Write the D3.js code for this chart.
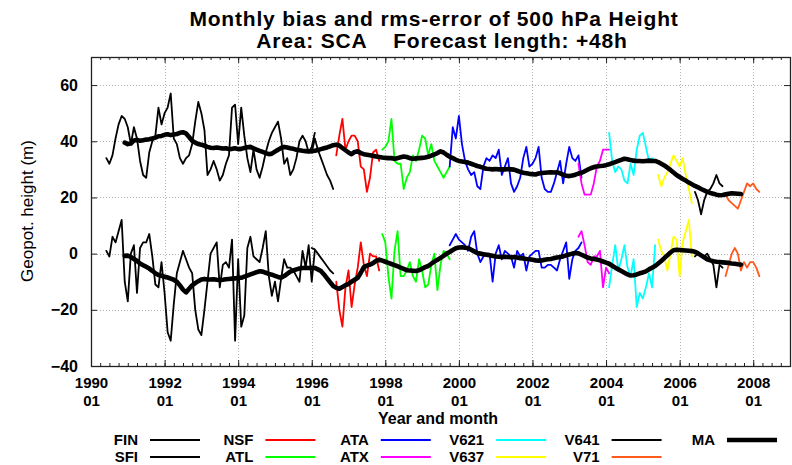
<!DOCTYPE html>
<html>
<head>
<meta charset="utf-8">
<script src="https://cdn.jsdelivr.net/npm/d3@7"></script>
<style>
  html, body { margin: 0; padding: 0; background: #fff; }
  svg { display: block; font-family: "Liberation Sans", Arial, Helvetica, sans-serif; }
</style>
</head>
<body>
<svg id="chart" width="792" height="465"></svg>
<script>
// ---- Data: monthly rms error (upper group) and bias (lower group), metres ----
// Each experiment: first month (YYYY-MM), then one value per month.
const finStart = "1990-06";
const finRms = [34,32,35,41,46,49,48,45,39,45,41,33,28,27,36,40,42,52,46,50,52,57,41,39,34,32,34,35,39,47,54,50,44,28,30,33,30,26,28,32,35,52,53,39,52,42,34,29,37,30,27,31,36,40,43,45,47,41,32,34,28,30,34,40,42,40,36,38,43];
const finBias = [1,-1,6,4,8,12,-10,-17,0,3,-14,2,4,4,7,-1,-11,-12,-3,-14,-28,-31,-18,-7,-3,1,-2,-5,-7,-20,-27,-29,-20,-10,0,2,4,-12,-4,-3,-5,5,-31,-2,-26,-22,2,6,-1,-2,-3,2,8,-8,-15,-10,-17,-9,-2,-5,-5,-6,-8,-10,1,-5,3,-10,1];

const sfiStart = "1996-01";
const sfiRms = [36,41,37,34,31,28,26,23];
const sfiBias = [2,1.5,0,-1.5,-3,-4.5,-6,-7];

const nsfStart = "1996-09";
const nsfRms = [35,42,48,37,40,42,42,40,31,30,22,27,36,37,33];
const nsfBias = [-10,-20,-26,-12,-6,-19,-11,-5,4,-4,-8,0,-1,-1,-6];

const atlStart = "1997-12";
const atlRms = [37,38,40,48,33,32,32,23,27,29,35,33,37,42,41,35,39,33,31,29,27,29,31];
const atlBias = [7,4,-8,-16,1,8,-8,-8,-6,-3,-8,-10,-2,-6,-12,-11,-4,0,-13,-4,1,0,-2];

const ataStart = "1999-10";
const ataRms = [31,45,41,49,39,33,30,28,29,24,23,31,34,33,35,34,37,28,31,34,25,22,24,27,34,38,31,32,34,38,27,23,22,22,25,29,33,25,32,38,34,33,35,27];
const ataBias = [3,5,7,5,4,3,1,6,8,0,-3,-1,0,0,-10,0,3,-2,1,0,-1,-5,1,-1,0,-6,-1,0,1,1,-5,-5,-4,-4,-5,-6,-2,1,4,-9,-2,1,2,4];

const atxStart = "2003-04";
const atxRms = [32,25,21,21,21,25,31,33,37,37,37];
const atxBias = [6,8,3,-3,-4,-1,-1,1,-12,-5,-7];

const v621Start = "2004-02";
const v621Rms = [43,33,29,31,30,26,25,32,28,37,42,43,38,33,34,33];
const v621Bias = [-12,-4,3,-6,-2,3,-5,-8,-2,-19,-14,-16,-12,-7,-12,3];

const v637Start = "2005-06";
const v637Rms = [28,24,27,29,32,35,33,31,34,28,23,18];
const v637Bias = [5,1,-1,-6,0,6,5,-8,4,8,12,-1];

const v641Start = "2006-06";
const v641Rms = [22,19,14,19,22,23,25,28,25,24];
const v641Bias = [-1,0,-1,-1,0,-2,-4,-12,-4,-5];

const v71Start = "2007-04";
const v71Rms = [21,19,18,17,16,19,22,25,24,25,23,22];
const v71Bias = [-8,-4,0,2,0,-6,-3,-5,-3,-3,-5,-8];

// Moving average over all experiments
const maStart = "1990-12";
const maRms = [39.5,39.0,39.2,40.3,40.5,40.2,40.4,40.6,40.7,41.0,
  41.3,41.8,41.9,42.3,42.5,42.2,42.4,42.6,43.0,43.2,
  42.8,41.5,40.2,39.5,39.0,38.8,38.4,38.0,37.7,37.6,
  37.8,37.6,37.4,37.5,37.2,37.3,37.5,37.2,37.3,37.6,
  37.9,38.0,37.5,37.0,36.6,36.2,35.8,35.4,35.6,36.3,
  37.0,37.6,38.0,37.8,37.5,37.3,37.0,36.8,36.6,36.5,
  36.4,36.5,36.6,36.9,37.2,37.5,37.8,38.2,38.6,38.8,
  38.5,37.6,36.8,36.0,35.4,36.2,36.4,35.8,35.4,35.2,
  35.0,34.8,34.6,34.4,34.2,34.1,34.0,34.0,33.8,34.0,
  34.3,34.6,34.4,34.0,33.8,33.9,34.0,34.1,34.2,34.5,
  34.9,35.3,35.8,36.4,36.0,35.2,34.5,34.0,33.4,33.0,
  32.8,32.6,32.4,32.0,31.6,31.2,30.9,30.5,30.2,30.1,
  30.0,30.1,30.0,30.0,30.0,30.1,30.0,29.9,29.5,29.1,
  28.8,28.6,28.4,28.3,28.2,28.5,28.7,28.8,28.9,29.0,
  28.9,29.0,28.6,28.1,27.7,27.6,27.8,28.1,28.5,28.8,
  29.3,29.9,30.4,30.8,31.0,31.2,31.3,31.5,31.8,32.2,
  32.6,33.0,33.4,33.8,33.6,33.3,33.1,33.0,33.0,32.9,
  33.0,33.1,33.0,33.0,32.6,32.0,31.4,30.6,29.8,28.9,
  28.0,27.3,26.6,26.0,25.3,24.7,24.1,23.6,23.0,22.5,
  22.0,21.6,21.3,21.0,20.8,20.9,21.1,21.3,21.5,21.4,
  21.3,21.2];
const maBias = [-0.8,-0.7,-1.2,-1.9,-2.6,-3.5,-4.1,-4.7,-5.3,-6.1,
  -7.0,-7.6,-7.9,-8.2,-8.5,-8.9,-9.3,-10.0,-11.3,-12.8,
  -13.8,-12.5,-11.3,-10.5,-9.8,-9.2,-9.0,-9.2,-9.2,-9.1,
  -9.3,-9.4,-9.3,-9.1,-9.0,-8.9,-8.8,-8.7,-8.6,-8.2,
  -7.8,-7.4,-7.0,-6.6,-6.3,-6.4,-6.8,-7.2,-7.5,-7.9,
  -8.3,-8.6,-8.0,-7.2,-6.4,-6.0,-5.6,-5.3,-5.1,-5.0,
  -5.1,-5.0,-5.1,-5.6,-6.2,-7.4,-8.8,-10.2,-11.5,-12.2,
  -12.5,-11.9,-11.2,-10.8,-10.0,-9.3,-8.6,-6.8,-4.8,-4.3,
  -3.9,-3.4,-2.6,-2.1,-2.5,-2.9,-3.3,-3.7,-4.1,-4.5,
  -5.0,-5.4,-5.9,-6.0,-6.1,-6.2,-5.9,-5.4,-4.8,-4.4,
  -3.6,-2.8,-2.2,-1.5,-0.8,0.0,0.6,1.3,1.9,2.2,
  2.3,2.1,2.0,1.4,0.8,0.2,0.0,-0.2,-0.4,-0.6,
  -0.8,-1.0,-1.1,-1.2,-1.1,-1.2,-1.3,-1.2,-1.4,-1.6,
  -1.7,-1.9,-2.0,-2.2,-2.4,-2.5,-2.4,-2.2,-2.0,-1.9,
  -1.6,-1.4,-1.2,-1.0,-0.6,-0.3,0.0,0.2,0.1,-0.4,
  -0.9,-1.4,-1.7,-1.9,-2.1,-2.4,-2.8,-3.2,-3.6,-4.3,
  -5.0,-5.6,-6.2,-6.8,-7.4,-7.8,-7.7,-7.4,-7.0,-6.7,
  -6.3,-5.6,-5.0,-4.4,-3.5,-2.6,-1.6,-0.6,0.4,1.2,
  1.4,1.3,1.2,1.1,1.0,0.9,0.7,0.1,-0.6,-1.3,
  -2.0,-2.4,-2.7,-2.9,-3.0,-3.1,-3.2,-3.3,-3.5,-3.6,
  -3.8,-3.9];

// Axis ticks
const yTickValues = [-40, -20, 0, 20, 40, 60];
const xLabelYears = [1990, 1992, 1994, 1996, 1998, 2000, 2002, 2004, 2006, 2008];
const xLabelMonth = "01";

// ---- Experiment table (name, start, rms, bias) and drawing styles ----
const experiments = [
  { name: "FIN",  start: finStart,  rms: finRms,  bias: finBias },
  { name: "SFI",  start: sfiStart,  rms: sfiRms,  bias: sfiBias },
  { name: "NSF",  start: nsfStart,  rms: nsfRms,  bias: nsfBias },
  { name: "ATL",  start: atlStart,  rms: atlRms,  bias: atlBias },
  { name: "ATA",  start: ataStart,  rms: ataRms,  bias: ataBias },
  { name: "ATX",  start: atxStart,  rms: atxRms,  bias: atxBias },
  { name: "V621", start: v621Start, rms: v621Rms, bias: v621Bias },
  { name: "V637", start: v637Start, rms: v637Rms, bias: v637Bias },
  { name: "V641", start: v641Start, rms: v641Rms, bias: v641Bias },
  { name: "V71",  start: v71Start,  rms: v71Rms,  bias: v71Bias }
];
const colorOf = {
  FIN: "#000000", SFI: "#000000", NSF: "#ff0000", ATL: "#00ff00", ATA: "#0000ff",
  ATX: "#ff00ff", V621: "#00ffff", V637: "#ffff00", V641: "#000000", V71: "#ff5a1e"
};

// ---- Layout ----
const svg = d3.select("#chart");
const plotLeft = 91, plotRight = 790, plotTop = 57, plotBottom = 366;
const thinWidth = 1.8, maWidth = 4.6;

const x = d3.scaleLinear().domain([1990, 2009]).range([plotLeft, plotRight]);
const y = d3.scaleLinear().domain([-40, 70]).range([plotBottom, plotTop]);

function toSeries(start, values) {
  const [yy, mm] = start.split("-").map(Number);
  return values.map((v, i) => ({ t: yy + (mm - 1 + i) / 12, v }));
}

// Grid (dotted)
const grid = svg.append("g").attr("stroke", "#b4b4b4").attr("stroke-width", 1)
  .attr("stroke-dasharray", "1,2");
grid.selectAll("line.h").data(yTickValues.filter(d => d > -40)).join("line")
  .attr("x1", plotLeft).attr("x2", plotRight)
  .attr("y1", d => Math.round(y(d)) + 0.5).attr("y2", d => Math.round(y(d)) + 0.5);
grid.selectAll("line.v").data(xLabelYears.filter(d => d > 1990)).join("line")
  .attr("y1", plotTop).attr("y2", plotBottom)
  .attr("x1", d => Math.round(x(d)) + 0.5).attr("x2", d => Math.round(x(d)) + 0.5);

// Axes with inward ticks
const quarterTicks = d3.range(1990, 2009.01, 0.25);
function styleAxis(g) {
  g.select(".domain").remove();
  g.selectAll(".tick line").attr("stroke", "#222").attr("stroke-width", 1);
}
function boldText(sel, size) {
  sel.attr("font-size", size).attr("font-weight", "bold").attr("fill", "#000")
    .attr("font-family", "Liberation Sans, Arial, sans-serif");
}
svg.append("g").attr("transform", `translate(0,${plotBottom})`)
  .call(d3.axisBottom(x).tickValues(quarterTicks).tickSize(-3).tickFormat(""))
  .call(styleAxis);
svg.append("g").attr("transform", `translate(0,${plotTop})`)
  .call(d3.axisTop(x).tickValues(quarterTicks).tickSize(-3).tickFormat(""))
  .call(styleAxis);
svg.append("g").attr("transform", `translate(0,${plotTop})`)
  .call(d3.axisTop(x).tickValues(xLabelYears).tickSize(-6).tickFormat(""))
  .call(styleAxis);

const xAxis = svg.append("g").attr("transform", `translate(0,${plotBottom})`)
  .call(d3.axisBottom(x).tickValues(xLabelYears).tickSize(-6).tickPadding(8))
  .call(styleAxis);
xAxis.selectAll(".tick text").each(function (d) {
  const t = d3.select(this);
  t.text(null).attr("dy", null).attr("y", 0).call(boldText, 15);
  t.append("tspan").attr("x", 0).attr("y", 22).text(String(d));
  t.append("tspan").attr("x", 0).attr("y", 40).text(xLabelMonth);
});

const yAxis = svg.append("g").attr("transform", `translate(${plotLeft},0)`)
  .call(d3.axisLeft(y).tickValues(yTickValues).tickSize(-6).tickPadding(13))
  .call(styleAxis);
yAxis.selectAll(".tick text").call(boldText, 16);
svg.append("g").attr("transform", `translate(${plotRight},0)`)
  .call(d3.axisRight(y).tickValues(yTickValues).tickSize(-6).tickFormat(""))
  .call(styleAxis);

// Frame
svg.append("rect").attr("x", plotLeft + 0.5).attr("y", plotTop + 0.5)
  .attr("width", plotRight - plotLeft).attr("height", plotBottom - plotTop)
  .attr("fill", "none").attr("stroke", "#222").attr("stroke-width", 1.3);

// Series
const line = d3.line().x(d => x(d.t)).y(d => y(d.v));
const plot = svg.append("g").attr("fill", "none")
  .attr("stroke-linejoin", "round").attr("stroke-linecap", "round");
experiments.forEach(e => {
  [e.rms, e.bias].forEach(vals => {
    plot.append("path").datum(toSeries(e.start, vals))
      .attr("d", line).attr("stroke", colorOf[e.name]).attr("stroke-width", thinWidth);
  });
});
[maRms, maBias].forEach(vals => {
  plot.append("path").datum(toSeries(maStart, vals))
    .attr("d", line).attr("stroke", "#000").attr("stroke-width", maWidth);
});

// Titles
svg.append("text").attr("x", 434).attr("y", 26).attr("text-anchor", "middle")
  .call(boldText, 21).attr("letter-spacing", 0.8)
  .text("Monthly bias and rms-error of 500 hPa Height");
svg.append("text").attr("x", 442).attr("y", 48).attr("text-anchor", "middle")
  .call(boldText, 21).attr("letter-spacing", 0.8).attr("xml:space", "preserve")
  .text("Area: SCA    Forecast length: +48h");
svg.append("text").attr("x", 438).attr("y", 424).attr("text-anchor", "middle")
  .call(boldText, 16).text("Year and month");
svg.append("text").attr("transform", "translate(33,211) rotate(-90)")
  .attr("text-anchor", "middle").attr("font-size", 17).attr("fill", "#000")
  .text("Geopot. height (m)");

// Legend: five columns of two, then the moving average
const legendItems = experiments.map(e => ({ name: e.name, color: colorOf[e.name], w: thinWidth }))
  .concat([{ name: "MA", color: "#000", w: maWidth }]);
const legend = svg.append("g");
legendItems.forEach((d, i) => {
  const col = Math.floor(i / 2), row = i % 2;
  const lx = 150 + col * 115.4, ly = 440 + row * 17;
  legend.append("text").attr("x", lx - 12).attr("y", ly + 5).attr("text-anchor", "end")
    .call(boldText, 15).text(d.name);
  legend.append("line").attr("x1", lx).attr("x2", lx + 50).attr("y1", ly).attr("y2", ly)
    .attr("stroke", d.color).attr("stroke-width", d.w);
});
</script>
</body>
</html>
